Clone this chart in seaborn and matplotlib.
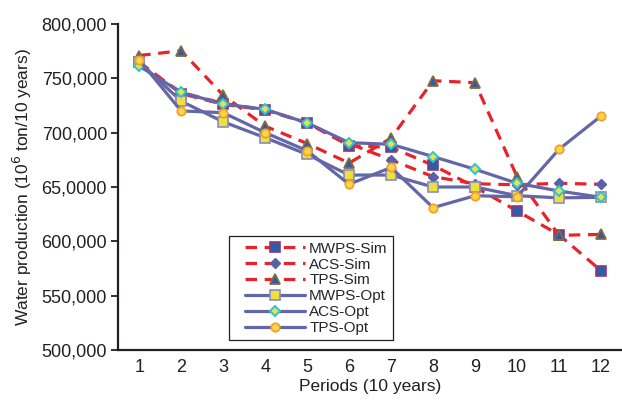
import numpy as np
import pandas as pd
import matplotlib
matplotlib.use("Agg")
import matplotlib.pyplot as plt
from matplotlib.legend_handler import HandlerLine2D
import seaborn as sns

periods = list(range(1, 13))

# values (10^6 ton / 10 years)
mwps_sim = [765000, 736000, 726000, 721000, 709000, 688000, 686500, 670000, 650000, 628000, 606000, 573000]
acs_sim = [763000, 737000, 727000, 721000, 709000, 690000, 675000, 659500, 653000, 652000, 653400, 652500]
tps_sim = [771000, 775400, 734500, 706000, 690000, 672000, 695000, 747800, 746000, 659500, 605500, 606400]
mwps_opt = [765000, 729000, 710000, 695400, 680000, 661000, 661000, 650000, 650000, 642000, 640000, 640500]
acs_opt = [761300, 737000, 726400, 721500, 709000, 690800, 689300, 678000, 666300, 653400, 646300, 640500]
tps_opt = [766900, 720000, 718400, 700000, 683400, 652500, 668000, 631000, 642000, 641000, 684700, 715300]

ytick_vals = [500000, 550000, 600000, 650000, 700000, 750000, 800000]
ytick_text = ["500,000", "550,000", "600,000", "65,0000", "700,000", "750,000", "800,000"]

sns.set_style("white")
plt.rcParams["font.family"] = ["Liberation Sans Narrow", "Liberation Sans", "DejaVu Sans"]

fig = plt.figure(figsize=(6.22, 4.0), dpi=100)
ax = fig.add_axes([0.19, 0.125, 0.81, 0.815])

red = "#e8232a"
slate = "#6467a7"

sim_style = dict(color=red, linewidth=2.3, linestyle=(0, (3.6, 2.4)))
opt_style = dict(color=slate, linewidth=2.3)

series = [
    ("MWPS-Sim", mwps_sim, sim_style, dict(marker="s", markersize=7.5, markerfacecolor="#2f5ba8", markeredgecolor="#8c3a78", markeredgewidth=1.2)),
    ("ACS-Sim", acs_sim, sim_style, dict(marker="D", markersize=5.5, markerfacecolor="#5b5fa6", markeredgecolor="#5b5fa6", markeredgewidth=1.0)),
    ("TPS-Sim", tps_sim, sim_style, dict(marker="^", markersize=7.5, markerfacecolor="#2f5ba8", markeredgecolor="#8a6a3c", markeredgewidth=1.3)),
    ("MWPS-Opt", mwps_opt, opt_style, dict(marker="s", markersize=7.5, markerfacecolor="#ece13c", markeredgecolor="#8a8cc0", markeredgewidth=1.2)),
    ("ACS-Opt", acs_opt, opt_style, dict(marker="D", markersize=5.5, markerfacecolor="#e6e34a", markeredgecolor="#2fc3d3", markeredgewidth=1.4)),
    ("TPS-Opt", tps_opt, opt_style, dict(marker="o", markersize=6, markerfacecolor="#f8d84a", markeredgecolor="#f5a024", markeredgewidth=1.3)),
]

for name, vals, ls, mk in series:
    sns.lineplot(x=periods, y=vals, ax=ax, label=name, **ls, **mk)

ax.set_xlim(0.5, 12.5)
ax.set_ylim(500000, 800000)
ax.set_xticks(periods)
ax.set_xticklabels([str(p) for p in periods], fontsize=13)
ax.set_yticks(ytick_vals)
ax.set_yticklabels(ytick_text, fontsize=13)

ax.set_xlabel("Periods (10 years)", fontsize=12.5, labelpad=2)
ax.set_ylabel("Water production (10$^6$ ton/10 years)", fontsize=12.5, labelpad=5)

for s in ["top", "right"]:
    ax.spines[s].set_visible(False)
for s in ["left", "bottom"]:
    ax.spines[s].set_color("#231f20")
    ax.spines[s].set_linewidth(1.6)

ax.tick_params(axis="y", left=True, length=5, width=1.3, color="#231f20", pad=3, labelcolor="#231f20")
ax.tick_params(axis="x", bottom=False, pad=3, labelcolor="#231f20")
ax.xaxis.label.set_color("#231f20")
ax.yaxis.label.set_color("#231f20")

handles, labels = ax.get_legend_handles_labels()
leg = ax.legend(handles, labels, loc="lower left", bbox_to_anchor=(0.22, 0.03), fontsize=11,
                handlelength=4.6, labelspacing=0.12, handletextpad=0.3,
                borderpad=0.35, fancybox=False, framealpha=1, borderaxespad=0,
                handler_map={h: HandlerLine2D(xpad=0.7) for h in handles})
leg.get_frame().set_edgecolor("#231f20")
leg.get_frame().set_linewidth(0.9)

fig.savefig("out.png", dpi=100)
